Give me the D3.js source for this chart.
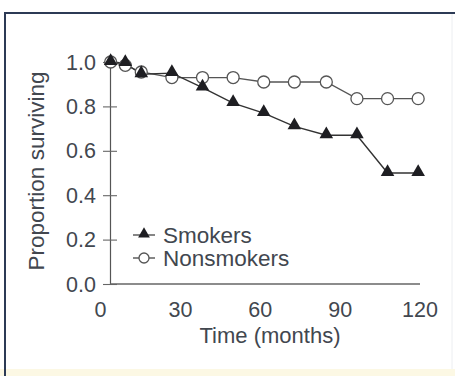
<!DOCTYPE html>
<html>
<head>
<meta charset="utf-8">
<script src="https://cdn.jsdelivr.net/npm/d3@7"></script>
<style>
  html, body { margin: 0; padding: 0; background: #fff; }
  svg { display: block; }
  text { font-family: "Liberation Sans", Arial, Helvetica, sans-serif; fill: #42474f; }
</style>
</head>
<body>
<svg id="chart" width="455" height="376"></svg>
<script>
// ---- Data ----
const months = [4, 9.5, 15.5, 27, 38.5, 50, 61.5, 73, 85, 96.5, 108, 119.5];
const smokers = [1.0, 0.995, 0.945, 0.95, 0.885, 0.815, 0.77, 0.71, 0.67, 0.67, 0.5, 0.5];
const nonsmokers = [1.0, 0.985, 0.955, 0.93, 0.93, 0.93, 0.91, 0.91, 0.91, 0.835, 0.835, 0.835];
const xTicks = [0, 30, 60, 90, 120];
const yTicks = [0.0, 0.2, 0.4, 0.6, 0.8, 1.0];
const seriesNames = ["Smokers", "Nonsmokers"];
const xTitle = "Time (months)";
const yTitle = "Proportion surviving";

// ---- Setup ----
const svg = d3.select("#chart");
const ink = "#42474f";

// frame
svg.append("rect").attr("x", 0).attr("y", 369).attr("width", 455).attr("height", 7).attr("fill", "#fcf8e4");
svg.append("line").attr("x1", 5).attr("x2", 5).attr("y1", 12).attr("y2", 376)
  .attr("stroke", "#2c3a55").attr("stroke-width", 2);
svg.append("line").attr("x1", 4).attr("x2", 455).attr("y1", 13).attr("y2", 13)
  .attr("stroke", "#2c3a55").attr("stroke-width", 2);
svg.append("line").attr("x1", 452).attr("x2", 452).attr("y1", 14).attr("y2", 369)
  .attr("stroke", "#eceef1").attr("stroke-width", 1);

const x = d3.scaleLinear().domain([0, 120]).range([100, 419.5]);
const y = d3.scaleLinear().domain([0, 1]).range([284, 62]);
const axisX0 = 110;

// y axis
const yAxis = svg.append("g").attr("transform", `translate(${axisX0},0)`)
  .call(d3.axisLeft(y).tickValues(yTicks).tickFormat(d3.format(".1f")).tickSize(7).tickPadding(8));
yAxis.select(".domain").attr("stroke", "#555").attr("stroke-width", 1.2);
yAxis.selectAll(".tick line").attr("x1", 7).attr("x2", -7).attr("stroke", "#666").attr("stroke-width", 1.1);
yAxis.selectAll(".tick text").attr("x", -14).attr("dy", "0.33em")
  .style("font-size", "21.5px").style("fill", ink).style("font-family", "Liberation Sans, Arial, sans-serif");

// x axis line
svg.append("line").attr("x1", axisX0).attr("x2", 420).attr("y1", y(0)).attr("y2", y(0))
  .attr("stroke", "#666").attr("stroke-width", 1.3);

// x tick labels
const xAxis = svg.append("g").attr("transform", `translate(0,${y(0)})`)
  .call(d3.axisBottom(x).tickValues(xTicks).tickFormat(d3.format("d")).tickSize(0).tickPadding(18));
xAxis.select(".domain").remove();
xAxis.selectAll(".tick text").style("font-size", "21.5px").style("fill", ink)
  .style("font-family", "Liberation Sans, Arial, sans-serif");

// titles
svg.append("text").attr("x", 270).attr("y", 343).attr("text-anchor", "middle")
  .style("font-size", "22px").text(xTitle);
svg.append("text").attr("transform", "translate(44,171) rotate(-90)").attr("text-anchor", "middle")
  .style("font-size", "22.5px").text(yTitle);

// lines
const line = d3.line().x(d => x(d[0])).y(d => y(d[1]));
const ptsS = months.map((m, i) => [m, smokers[i]]);
const ptsN = months.map((m, i) => [m, nonsmokers[i]]);

svg.append("path").datum(ptsN).attr("d", line).attr("fill", "none")
  .attr("stroke", "#555").attr("stroke-width", 1.3);
svg.append("path").datum(ptsS).attr("d", line).attr("fill", "none")
  .attr("stroke", "#333").attr("stroke-width", 1.4);

const tri = d3.symbol().type(d3.symbolTriangle).size(80);

svg.selectAll("circle.ns").data(ptsN).join("circle").attr("class", "ns")
  .attr("cx", d => x(d[0])).attr("cy", d => y(d[1])).attr("r", 6)
  .attr("fill", "#fff").attr("stroke", "#555").attr("stroke-width", 1.3);

svg.selectAll("path.sm").data(ptsS).join("path").attr("class", "sm")
  .attr("d", tri).attr("transform", d => `translate(${x(d[0])},${y(d[1]) - 1})`)
  .attr("fill", "#1e1e22");

// legend
const lgX = 133, lgW = 22;
const lg = [{ name: seriesNames[0], yy: 235, type: "tri" }, { name: seriesNames[1], yy: 258, type: "circ" }];
lg.forEach(l => {
  svg.append("line").attr("x1", lgX).attr("x2", lgX + lgW).attr("y1", l.yy).attr("y2", l.yy)
    .attr("stroke", "#444").attr("stroke-width", 1.3);
  if (l.type === "tri") {
    svg.append("path").attr("d", d3.symbol().type(d3.symbolTriangle).size(60))
      .attr("transform", `translate(${lgX + lgW / 2},${l.yy - 1})`).attr("fill", "#1e1e22");
  } else {
    svg.append("circle").attr("cx", lgX + lgW / 2).attr("cy", l.yy).attr("r", 5)
      .attr("fill", "#fff").attr("stroke", "#555").attr("stroke-width", 1.3);
  }
  svg.append("text").attr("x", 163).attr("y", l.yy).attr("dy", "0.36em")
    .style("font-size", "22.5px").text(l.name);
});
</script>
</body>
</html>
